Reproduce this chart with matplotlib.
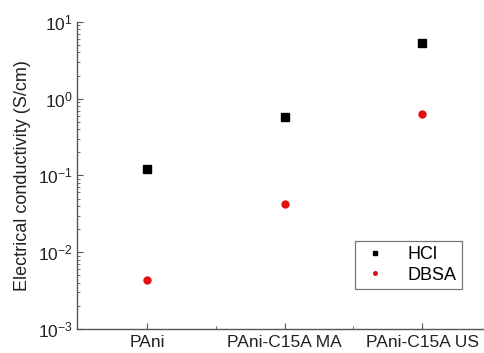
import matplotlib
matplotlib.use("Agg")
import matplotlib.pyplot as plt
from matplotlib.ticker import LogLocator, FixedLocator, NullFormatter

plt.rcParams['font.family'] = ['Liberation Sans', 'DejaVu Sans']
plt.rcParams['mathtext.fontset'] = 'custom'
plt.rcParams['mathtext.rm'] = 'Liberation Sans'
plt.rcParams['mathtext.default'] = 'regular'

samples = ["PAni", "PAni-C15A MA", "PAni-C15A US"]
hcl = [0.12, 0.58, 5.3]
dbsa = [0.0043, 0.043, 0.64]
ytick_vals = [1e-3, 1e-2, 1e-1, 1e0, 1e1]
ytick_labels = ["10$^{-3}$", "10$^{-2}$", "10$^{-1}$", "10$^{0}$", "10$^{1}$"]

fig = plt.figure(figsize=(4.84, 3.53), dpi=100)
ax = fig.add_axes([0.159, 0.068, 0.841, 0.870])

x = list(range(1, len(samples) + 1))
ax.plot(x, hcl, linestyle='none', marker='s', color='black', markersize=5.2, label='HCl')
ax.plot(x, dbsa, linestyle='none', marker='o', color='#e01010', markersize=6,
        markeredgewidth=0, label='DBSA')

ax.set_yscale('log')
ax.set_ylim(1e-3, 1e1)
ax.set_xlim(0.49, 3.45)

ax.set_yticks(ytick_vals)
ax.set_yticklabels(ytick_labels)
ax.yaxis.set_minor_locator(LogLocator(base=10, subs=range(2, 10)))
ax.yaxis.set_minor_formatter(NullFormatter())

ax.set_xticks(x)
ax.set_xticklabels(samples, fontsize=13.5)
ax.xaxis.set_minor_locator(FixedLocator([1.5, 2.5]))

for s in ['top', 'right']:
    ax.spines[s].set_visible(False)
for s in ['left', 'bottom']:
    ax.spines[s].set_color('#555555')
    ax.spines[s].set_linewidth(1.0)

ax.tick_params(axis='both', which='major', direction='in', length=4, width=0.8,
               colors='#555555', labelcolor='#222222', labelsize=12.5)
ax.tick_params(axis='both', which='minor', direction='in', length=2, width=0.6,
               colors='#555555')
ax.tick_params(axis='x', pad=4)
ax.tick_params(axis='y', pad=3)

ax.set_ylabel("Electrical conductivity (S/cm)", fontsize=13, color='#222222', labelpad=5)

leg = ax.legend(loc='lower right', bbox_to_anchor=(0.945, 0.13), fontsize=13,
                frameon=True, fancybox=False, handlelength=1.6, handletextpad=1.0,
                borderpad=0.3, labelspacing=0.2, markerscale=0.6,
                borderaxespad=0)
leg.get_frame().set_edgecolor('#555555')
leg.get_frame().set_linewidth(0.9)

fig.savefig("out.png", dpi=100)
